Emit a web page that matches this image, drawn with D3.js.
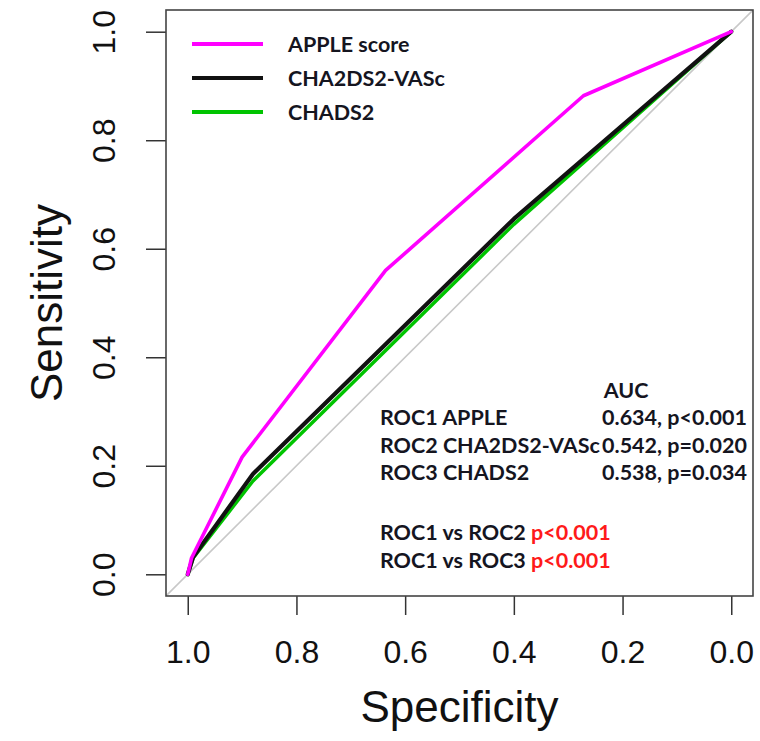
<!DOCTYPE html>
<html>
<head>
<meta charset="utf-8">
<script src="https://cdn.jsdelivr.net/npm/d3@7"></script>
<style>
  body { margin: 0; background: #fff; }
  svg { display: block; }
</style>
</head>
<body>
<div id="chart"></div>
<script>
//====================== data ======================

const appleSpec = [1, 0.993, 0.900, 0.636, 0.272, 0];
const appleSens = [0, 0.030, 0.216, 0.560, 0.882, 1];

const cha2Spec = [1, 0.990, 0.880, 0.400, 0];
const cha2Sens = [0, 0.032, 0.185, 0.655, 1];

const chadsSpec = [1, 0.990, 0.880, 0.400, 0];
const chadsSens = [0, 0.030, 0.172, 0.645, 1];

const ticks = [1.0, 0.8, 0.6, 0.4, 0.2, 0.0];

const legendNames = ['APPLE score', 'CHA2DS2-VASc', 'CHADS2'];
const legendColors = ['#ff00ff', '#111111', '#00c400'];

const aucNames = ['ROC1 APPLE', 'ROC2 CHA2DS2-VASc', 'ROC3 CHADS2'];
const aucValues = ['0.634, p<0.001', '0.542, p=0.020', '0.538, p=0.034'];
const compNames = ['ROC1 vs ROC2', 'ROC1 vs ROC3'];
const compValues = ['p<0.001', 'p<0.001'];

//====================== chart ======================

const w = 760;
const h = 741;

const box = { left: 166, right: 753, top: 10, bottom: 596 };

const svg = d3.select('#chart').append('svg')
  .attr('width', w)
  .attr('height', h);

// R style: 4% padding around the data range
const xScale = d3.scaleLinear()
  .domain([1.04, -0.04])
  .range([box.left, box.right]);

const yScale = d3.scaleLinear()
  .domain([-0.04, 1.04])
  .range([box.bottom, box.top]);

svg.append('clipPath').attr('id', 'plot-clip')
  .append('rect')
  .attr('x', box.left).attr('y', box.top)
  .attr('width', box.right - box.left).attr('height', box.bottom - box.top);

// chance diagonal across the whole plot region
svg.append('line')
  .attr('clip-path', 'url(#plot-clip)')
  .attr('x1', xScale(1.1)).attr('y1', yScale(-0.1))
  .attr('x2', xScale(-0.1)).attr('y2', yScale(1.1))
  .attr('stroke', '#c8c8c8')
  .attr('stroke-width', 1.6);

// axes
const xAxisGen = d3.axisBottom(xScale)
  .tickValues(ticks)
  .tickFormat(d3.format('.1f'))
  .tickSize(19)
  .tickPadding(10);

const yAxisGen = d3.axisLeft(yScale)
  .tickValues(ticks)
  .tickFormat(d3.format('.1f'))
  .tickSize(20);

const xAxis = svg.append('g')
  .attr('transform', 'translate(0,' + box.bottom + ')')
  .call(xAxisGen);

const yAxis = svg.append('g')
  .attr('transform', 'translate(' + box.left + ',0)')
  .call(yAxisGen);

[xAxis, yAxis].forEach(ax => {
  ax.select('.domain').remove();
  ax.selectAll('.tick line').attr('stroke', '#333').attr('stroke-width', 1.5);
  ax.selectAll('.tick text')
    .attr('fill', '#111')
    .style('font-family', '"Liberation Sans", Arial, sans-serif')
    .style('font-size', '32px');
});

xAxis.selectAll('.tick text').attr('dy', '1.18em');

// y labels are parallel to the axis, as in base R
yAxis.selectAll('.tick text')
  .attr('x', null).attr('dy', null)
  .attr('text-anchor', 'middle')
  .attr('transform', 'translate(-51,0) rotate(-90)');

// frame
svg.append('rect')
  .attr('x', box.left).attr('y', box.top)
  .attr('width', box.right - box.left).attr('height', box.bottom - box.top)
  .attr('fill', 'none')
  .attr('stroke', '#444')
  .attr('stroke-width', 1.6);

// axis titles
svg.append('text')
  .attr('x', (box.left + box.right) / 2)
  .attr('y', 722)
  .attr('text-anchor', 'middle')
  .style('font-family', '"Liberation Sans", Arial, sans-serif')
  .style('font-size', '44px')
  .attr('fill', '#111')
  .text('Specificity');

svg.append('text')
  .attr('transform', 'translate(62,' + ((box.top + box.bottom) / 2) + ') rotate(-90)')
  .attr('text-anchor', 'middle')
  .style('font-family', '"Liberation Sans", Arial, sans-serif')
  .style('font-size', '44px')
  .attr('fill', '#111')
  .text('Sensitivity');

// ROC curves
const rocLine = d3.line()
  .x(d => xScale(d[0]))
  .y(d => yScale(d[1]));

const curves = [
  { spec: chadsSpec, sens: chadsSens, color: legendColors[2], width: 3.5 },
  { spec: cha2Spec, sens: cha2Sens, color: legendColors[1], width: 4.2 },
  { spec: appleSpec, sens: appleSens, color: legendColors[0], width: 3.6 }
];

curves.forEach(c => {
  svg.append('path')
    .attr('d', rocLine(d3.zip(c.spec, c.sens)))
    .attr('fill', 'none')
    .attr('stroke', c.color)
    .attr('stroke-width', c.width)
    .attr('stroke-linejoin', 'round')
    .attr('stroke-linecap', 'round');
});

// legend
const legend = svg.append('g');
const legendY = [44, 78, 112];

legendNames.forEach((name, i) => {
  legend.append('line')
    .attr('x1', 192).attr('x2', 263)
    .attr('y1', legendY[i]).attr('y2', legendY[i])
    .attr('stroke', legendColors[i])
    .attr('stroke-width', 4);
  legend.append('text')
    .attr('x', 288).attr('y', legendY[i] + 8)
    .attr('class', 'calib')
    .text(name);
});

// AUC block
const note = svg.append('g');

note.append('text')
  .attr('x', 626).attr('y', 398)
  .attr('text-anchor', 'middle')
  .attr('class', 'calib')
  .text('AUC');

aucNames.forEach((name, i) => {
  const y = 425 + i * 27.5;
  note.append('text').attr('x', 380).attr('y', y).attr('class', 'calib').text(name);
  note.append('text').attr('x', 747).attr('y', y)
    .attr('text-anchor', 'end').attr('class', 'calib').text(aucValues[i]);
});

compNames.forEach((name, i) => {
  const y = 540 + i * 27.5;
  const t = note.append('text').attr('x', 380).attr('y', y).attr('class', 'calib');
  t.append('tspan').text(name + ' ');
  t.append('tspan').attr('fill', '#ff1a1a').text(compValues[i]);
});

svg.selectAll('.calib')
  .style('font-family', 'Lato, "Open Sans", sans-serif')
  .style('font-weight', 'bold')
  .style('font-size', '21.5px')
  .attr('fill', '#15151f');
</script>
</body>
</html>
